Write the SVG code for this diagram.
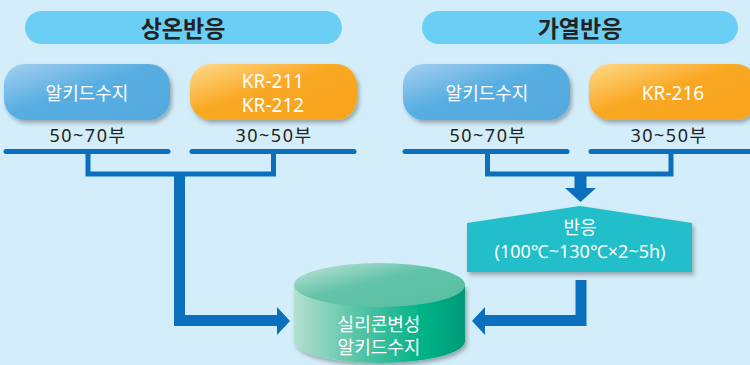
<svg xmlns="http://www.w3.org/2000/svg" width="750" height="365" viewBox="0 0 750 365">
<defs>
<linearGradient id="gBlue" x1="0" y1="0" x2="1" y2="1">
<stop offset="0" stop-color="#A6D0F0"/>
<stop offset="0.45" stop-color="#58AEE2"/>
<stop offset="1" stop-color="#52A9DF"/>
</linearGradient>
<linearGradient id="gOrange" x1="0" y1="0" x2="1" y2="1">
<stop offset="0" stop-color="#FFD98A"/>
<stop offset="0.45" stop-color="#F9A823"/>
<stop offset="1" stop-color="#F7A41C"/>
</linearGradient>
<linearGradient id="gCylSide" x1="0" y1="0" x2="1" y2="0">
<stop offset="0" stop-color="#B4E0CF"/>
<stop offset="0.35" stop-color="#5CC5A8"/>
<stop offset="0.75" stop-color="#00B387"/>
<stop offset="1" stop-color="#009A78"/>
</linearGradient>
<linearGradient id="gCylTop" x1="0" y1="0" x2="1" y2="1">
<stop offset="0" stop-color="#C4E6DA"/>
<stop offset="0.45" stop-color="#61C3A7"/>
<stop offset="1" stop-color="#58BFA2"/>
</linearGradient>
<filter id="sh" x="-10%" y="-10%" width="125%" height="135%">
<feDropShadow dx="2" dy="3" stdDeviation="2" flood-color="#000" flood-opacity="0.3"/>
</filter>
<style>
.bg{fill:#D3EEFA}
.pill{fill:#6BCFF5}
.title{font-family:"Noto Sans","Noto Sans CJK KR",sans-serif;font-size:23px;font-weight:bold;fill:#222;text-anchor:middle;dominant-baseline:central}
.wt{font-family:"Noto Sans","Noto Sans CJK KR",sans-serif;font-size:18px;fill:#fff;text-anchor:middle;dominant-baseline:central}
.kr{font-size:19px}
.qt{font-family:"Noto Sans","Noto Sans CJK KR",sans-serif;font-size:18px;letter-spacing:1.5px;fill:#222;text-anchor:middle;dominant-baseline:central}
.ln{stroke:#0A6FBD;stroke-width:5;fill:none;stroke-linecap:round}
.br{stroke:#0A6FBD;stroke-width:5;fill:none}
.thick{stroke:#0A6FBD;stroke-width:11;fill:none}
.ah{fill:#0A6FBD}
</style>
</defs>
<rect class="bg" x="0" y="0" width="750" height="365"/>

<g id="title-left">
<rect class="pill" x="25" y="11" width="317" height="33" rx="16.5"/>
<text class="title" x="183" y="27.5">상온반응</text>
</g>
<g id="title-right">
<rect class="pill" x="422" y="11" width="316" height="33" rx="16.5"/>
<text class="title" x="580" y="27.5">가열반응</text>
</g>

<g id="alkyd-left">
<rect x="4" y="64" width="166" height="56" rx="21" fill="url(#gBlue)" filter="url(#sh)"/>
<text class="wt" x="87" y="93">알키드수지</text>
<text class="qt" x="88" y="135">50~70부</text>
</g>
<g id="kr211">
<rect x="190" y="64" width="167" height="56" rx="21" fill="url(#gOrange)" filter="url(#sh)"/>
<text class="wt kr" x="273" y="81">KR-211</text>
<text class="wt kr" x="273" y="105">KR-212</text>
<text class="qt" x="274" y="135">30~50부</text>
</g>
<g id="alkyd-right">
<rect x="403" y="64" width="167" height="56" rx="21" fill="url(#gBlue)" filter="url(#sh)"/>
<text class="wt" x="487" y="93">알키드수지</text>
<text class="qt" x="488" y="135">50~70부</text>
</g>
<g id="kr216">
<rect x="589" y="64" width="168" height="56" rx="21" fill="url(#gOrange)" filter="url(#sh)"/>
<text class="wt kr" x="673" y="93">KR-216</text>
<text class="qt" x="669" y="135">30~50부</text>
</g>

<g id="reaction">
<polygon points="467,223 580,206 692,223 692,272 467,272" fill="#21BFCA" filter="url(#sh)"/>
<text class="wt" x="580" y="227">반응</text>
<text class="wt" x="580" y="251">(100℃~130℃×2~5h)</text>
</g>

<g id="product">
<path d="M294,285 V341 A85.5,22 0 0 0 465,341 V285 Z" fill="url(#gCylSide)" filter="url(#sh)"/>
<ellipse cx="379.5" cy="285" rx="85.5" ry="22" fill="url(#gCylTop)"/>
<text class="wt" x="379" y="324">실리콘변성</text>
<text class="wt" x="379" y="347">알키드수지</text>
</g>

<g id="connectors">
<line class="ln" x1="6" y1="151.5" x2="168" y2="151.5"/>
<line class="ln" x1="192" y1="151.5" x2="354" y2="151.5"/>
<line class="ln" x1="405" y1="151.5" x2="567" y2="151.5"/>
<line class="ln" x1="591" y1="151.5" x2="752" y2="151.5"/>
<path class="br" d="M88,151 V174 H273.5 V151"/>
<path class="br" d="M487.5,151 V174 H671 V151"/>
<path class="thick" d="M179.5,174 V320.5 H278"/>
<polygon class="ah" points="277,307 290,321 277,335"/>
<path d="M580.5,174 V189" stroke="#0A6FBD" stroke-width="12" fill="none"/>
<polygon class="ah" points="565,188 596,188 580.5,202"/>
<path class="thick" d="M581,280 V320.5 H484"/>
<polygon class="ah" points="485,307 472,321 485,335"/>
</g>
</svg>
